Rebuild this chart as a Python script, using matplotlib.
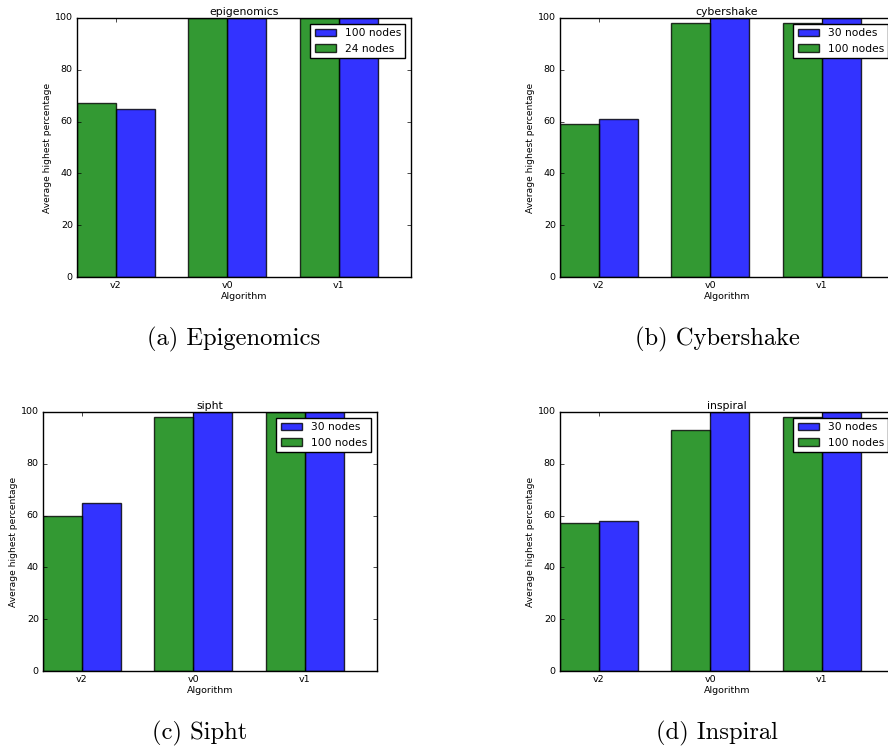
import matplotlib
matplotlib.use("Agg")
import matplotlib.pyplot as plt
import numpy as np

plt.style.use('classic')

algorithms = ['v2', 'v0', 'v1']

# one entry per workflow: title, caption, blue label, green label
titles = ['epigenomics', 'cybershake', 'sipht', 'inspiral']
captions = ['(a) Epigenomics', '(b) Cybershake', '(c) Sipht', '(d) Inspiral']
blue_labels = ['100 nodes', '30 nodes', '30 nodes', '30 nodes']
green_labels = ['24 nodes', '100 nodes', '100 nodes', '100 nodes']

epigenomics_green = [67, 100, 100]
epigenomics_blue = [65, 100, 100]
cybershake_green = [59, 98, 98]
cybershake_blue = [61, 100, 100]
sipht_green = [60, 98, 100]
sipht_blue = [65, 100, 100]
inspiral_green = [57, 93, 98]
inspiral_blue = [58, 100, 100]

greens = [epigenomics_green, cybershake_green, sipht_green, inspiral_green]
blues = [epigenomics_blue, cybershake_blue, sipht_blue, inspiral_blue]


def plot_workflow(ax, green, blue, title, blue_label, green_label):
    """ Draw one grouped bar chart in the old matplotlib look. """
    index = np.arange(len(algorithms))
    width = 0.35
    b = ax.bar(index + width, blue, width, align='edge', color='b', alpha=0.8,
               label=blue_label)
    g = ax.bar(index, green, width, align='edge', color='g', alpha=0.8,
               label=green_label)
    ax.set_xlim(0, 3)
    ax.set_ylim(0, 100)
    ax.set_xticks(index + width)
    ax.set_xticklabels(algorithms)
    ax.set_xlabel('Algorithm', fontsize=6.8, labelpad=1)
    ax.set_ylabel('Average highest percentage', fontsize=6.6, labelpad=2)
    ax.set_title(title, fontsize=7.8, pad=2)
    ax.tick_params(labelsize=6.8, length=3, pad=3)
    ax.legend([b, g], [blue_label, green_label], loc='upper right',
              fontsize=7.7, borderaxespad=0.55)


fig = plt.figure(figsize=(8.88, 7.49), dpi=100)
fig.patch.set_facecolor('white')

w, h = 334 / 888, 259 / 749
positions = [(77 / 888, 1 - 277 / 749),
             (560 / 888, 1 - 277 / 749),
             (43 / 888, 1 - 671 / 749),
             (560 / 888, 1 - 671 / 749)]
caption_pos = [(234 / 888, 1 - 339 / 749),
               (717 / 888, 1 - 339 / 749),
               (200 / 888, 1 - 733 / 749),
               (717 / 888, 1 - 733 / 749)]

for i in range(4):
    ax = fig.add_axes([positions[i][0], positions[i][1], w, h])
    plot_workflow(ax, greens[i], blues[i], titles[i],
                  blue_labels[i], green_labels[i])
    fig.text(caption_pos[i][0], caption_pos[i][1], captions[i],
             ha='center', va='center', fontsize=17.7, family='cmr10')

fig.savefig('out.png', dpi=100, facecolor='white')
